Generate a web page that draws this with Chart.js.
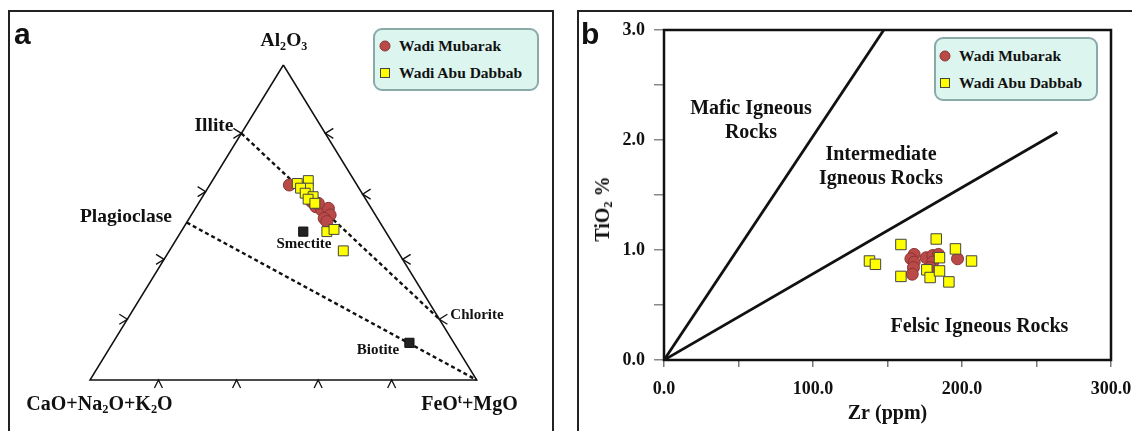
<!DOCTYPE html>
<html><head><meta charset="utf-8">
<script src="https://cdn.jsdelivr.net/npm/chart.js@4.4.0/dist/chart.umd.min.js"></script>
<style>
html,body{margin:0;padding:0;background:#fff;width:1132px;height:431px;overflow:hidden;position:relative;font-family:"Liberation Serif","Times New Roman",serif;}
.frame{position:absolute;border:2px solid #222;box-sizing:border-box;}
canvas{position:absolute;}
.lbl{position:absolute;font-weight:bold;line-height:1;white-space:nowrap;transform:translate(-50%,-50%);color:#111;}
.lbl sub,.lbl sup{font-size:0.62em;line-height:0;}
.lbl sub{vertical-align:-0.28em;}
.lbl sup{vertical-align:0.55em;}
.panel{position:absolute;font-family:"Liberation Sans",Arial,sans-serif;font-weight:bold;font-size:30px;line-height:1;color:#111;}
.legend{position:absolute;background:#dcf5ef;border:2px solid #8aaaa8;border-radius:9px;box-sizing:border-box;}
.lg{position:absolute;font-weight:bold;font-size:15.5px;line-height:1;white-space:nowrap;transform:translateY(-50%);color:#111;}
.mk{position:absolute;box-sizing:border-box;transform:translate(-50%,-50%);}
.mk.c{width:11px;height:11px;border-radius:50%;background:#b94a48;border:1px solid #8b3434;}
.mk.s{width:10px;height:10px;background:#ffff00;border:1px solid #444;}
</style>
</head><body>

<div class="frame" style="left:8px;top:10px;width:546px;height:440px;"></div>
<div class="frame" style="left:577px;top:10px;width:570px;height:440px;"></div>

<canvas id="ca" width="560" height="431" style="left:0;top:0;"></canvas>
<canvas id="cb" width="562" height="431" style="left:570px;top:0;"></canvas>

<!-- panel a texts -->
<div class="panel" style="left:14px;top:19px;">a</div>
<div class="lbl" style="left:284px;top:40px;font-size:19.5px;">Al<sub>2</sub>O<sub>3</sub></div>
<div class="lbl" style="left:214px;top:125px;font-size:19.5px;">Illite</div>
<div class="lbl" style="left:126px;top:216px;font-size:19.5px;">Plagioclase</div>
<div class="lbl" style="left:304px;top:242.5px;font-size:15px;">Smectite</div>
<div class="lbl" style="left:378px;top:349px;font-size:15px;">Biotite</div>
<div class="lbl" style="left:477px;top:313.5px;font-size:15px;">Chlorite</div>
<div class="lbl" style="left:99.5px;top:402.5px;font-size:20px;">CaO+Na<sub>2</sub>O+K<sub>2</sub>O</div>
<div class="lbl" style="left:469.5px;top:402.5px;font-size:20px;">FeO<sup>t</sup>+MgO</div>

<div class="legend" style="left:373px;top:28px;width:166px;height:63px;"></div>
<div class="mk c" style="left:385px;top:45.7px;"></div>
<div class="mk s" style="left:385px;top:73.3px;"></div>
<div class="lg" style="left:399px;top:45.5px;">Wadi Mubarak</div>
<div class="lg" style="left:399px;top:73.3px;">Wadi Abu Dabbab</div>

<!-- panel b texts -->
<div class="panel" style="left:581px;top:19px;">b</div>
<div class="lbl" style="left:751px;top:107px;font-size:20px;">Mafic Igneous</div>
<div class="lbl" style="left:751px;top:131px;font-size:20px;">Rocks</div>
<div class="lbl" style="left:881px;top:153px;font-size:20px;">Intermediate</div>
<div class="lbl" style="left:881px;top:177px;font-size:20px;">Igneous Rocks</div>
<div class="lbl" style="left:979.5px;top:325px;font-size:20px;">Felsic Igneous Rocks</div>
<div class="lbl" style="left:602px;top:209px;font-size:20px;transform:translate(-50%,-50%) rotate(-90deg);">TiO<sub>2</sub> %</div>

<div class="legend" style="left:934px;top:37px;width:164px;height:64px;"></div>
<div class="mk c" style="left:945px;top:55.7px;"></div>
<div class="mk s" style="left:945px;top:83.3px;"></div>
<div class="lg" style="left:959px;top:55.5px;">Wadi Mubarak</div>
<div class="lg" style="left:959px;top:83.3px;">Wadi Abu Dabbab</div>

<script>
// ===== Panel a: ternary Al2O3 - (CaO+Na2O+K2O) - (FeOt+MgO), in % =====
const mubarakAl2O3 = [61.9, 56.6, 55.0, 54.0, 54.5, 52.4, 51.3, 50.3, 56.1];
const mubarakCNK   = [17.5, 14.4, 14.1, 13.1, 11.1, 11.7, 13.8, 13.6, 12.9];
const mubarakFM    = [20.6, 29.0, 30.9, 32.9, 34.4, 35.9, 34.9, 36.1, 31.0];

const dabbabAl2O3 = [62.4, 63.3, 60.9, 60.9, 59.3, 58.2, 57.4, 56.1, 47.1, 47.8, 41.0];
const dabbabCNK   = [15.2, 11.9, 13.1, 15.1, 14.7, 13.2, 14.9, 13.8, 15.2, 13.0, 14.0];
const dabbabFM    = [22.4, 24.8, 26.0, 24.0, 26.0, 28.6, 27.7, 30.1, 37.7, 39.2, 45.0];

// reference minerals
const mineralNames  = ['Illite', 'Plagioclase', 'Chlorite', 'Smectite', 'Biotite'];
const mineralAl2O3  = [78.3, 50.0, 19.3, 47.1, 11.8];
const mineralCNK    = [21.7, 50.0, 0.0, 21.3, 11.5];
const mineralFM     = [0.0, 0.0, 80.7, 31.6, 76.7];

// triangle apexes: Al2O3, CaO+Na2O+K2O, FeOt+MgO
const apexAl2O3 = [100, 0, 0];
const apexCNK   = [0, 100, 0];
const apexFM    = [0, 0, 100];

// chevron tick positions along the edges (%)
const leftEdgeTicks   = [19.3, 38.3, 59.8, 78.3];   // Al2O3 % on the left edge
const rightEdgeTicks  = [19.3, 38.3, 59.0, 78.3];   // Al2O3 % on the right edge
const bottomEdgeTicks = [17.7, 37.9, 59.0, 78.0];   // FeOt+MgO % on the base

// ===== Panel b: TiO2 vs Zr =====
const zrMubarak  = [167.9, 165.7, 167.9, 167.4, 166.6, 176.0, 180.4, 184.2, 180.4, 178.6, 197.0];
const tiMubarak  = [0.96, 0.92, 0.89, 0.84, 0.78, 0.93, 0.95, 0.96, 0.89, 0.84, 0.92];
const zrDabbab   = [159.0, 182.7, 195.6, 137.9, 141.9, 206.4, 184.9, 159.0, 176.4, 178.6, 184.9, 191.2];
const tiDabbab   = [1.05, 1.10, 1.01, 0.90, 0.87, 0.90, 0.93, 0.76, 0.82, 0.75, 0.81, 0.71];
const maficLineZr = [0, 147.5];
const maficLineTi = [0, 3.0];
const felsicLineZr = [0, 264];
const felsicLineTi = [0, 2.07];
const xTickLabels = ['0.0', '100.0', '200.0', '300.0'];
const yTickLabels = ['0.0', '1.0', '2.0', '3.0'];

// ---- helpers ----
function tern(a, c, f) { const s = a + c + f; return { x: (f + a / 2) / s, y: a / s }; }
function ternList(A, C, F) { return A.map((a, i) => tern(a, C[i], F[i])); }
function xyList(X, Y) { return X.map((x, i) => ({ x: x, y: Y[i] })); }
const mIdx = n => mineralNames.indexOf(n);
const mPt = n => tern(mineralAl2O3[mIdx(n)], mineralCNK[mIdx(n)], mineralFM[mIdx(n)]);

const RED = '#b94a48', RED_B = '#8b3434', YEL = '#ffff00', YEL_B = '#444';
const SERIF = '"Liberation Serif","Times New Roman",serif';

const chevronPlugin = {
  id: 'chevrons',
  afterDatasetsDraw(chart) {
    const { ctx, scales: { x, y } } = chart;
    ctx.save();
    ctx.strokeStyle = '#111'; ctx.lineWidth = 1.3;
    const chev = (p, dx1, dy1, dx2, dy2) => {
      const px = x.getPixelForValue(p.x), py = y.getPixelForValue(p.y);
      ctx.beginPath(); ctx.moveTo(px + dx1, py + dy1); ctx.lineTo(px, py); ctx.lineTo(px + dx2, py + dy2); ctx.stroke();
    };
    leftEdgeTicks.forEach(a => chev(tern(a, 100 - a, 0), -8, -5, -8, 5));
    rightEdgeTicks.forEach(a => chev(tern(a, 0, 100 - a), 8, -5, 8, 5));
    bottomEdgeTicks.forEach(f => chev(tern(0, 100 - f, f), -4, 8, 4, 8));
    ctx.restore();
  }
};

const triangle = [tern(apexAl2O3[0], apexCNK[0], apexFM[0]), tern(apexAl2O3[1], apexCNK[1], apexFM[1]),
                  tern(apexAl2O3[2], apexCNK[2], apexFM[2]), tern(apexAl2O3[0], apexCNK[0], apexFM[0])];

new Chart(document.getElementById('ca'), {
  type: 'scatter',
  data: {
    datasets: [
      { label: 'Wadi Abu Dabbab', data: ternList(dabbabAl2O3, dabbabCNK, dabbabFM), order: 0,
        pointStyle: 'rect', radius: 7, backgroundColor: YEL, borderColor: YEL_B, borderWidth: 1 },
      { label: 'Wadi Mubarak', data: ternList(mubarakAl2O3, mubarakCNK, mubarakFM), order: 1,
        pointStyle: 'circle', radius: 6, backgroundColor: RED, borderColor: RED_B, borderWidth: 1 },
      { label: 'Minerals', data: [mPt('Smectite'), mPt('Biotite')], order: 2,
        pointStyle: 'rect', radius: 6.5, backgroundColor: '#222', borderColor: '#111', borderWidth: 1 },
      { label: 'Illite-Chlorite', data: [mPt('Illite'), mPt('Chlorite')], showLine: true, order: 3,
        pointRadius: 0, borderColor: '#111', borderWidth: 2.4, borderDash: [4, 3] },
      { label: 'Plagioclase-FM', data: [mPt('Plagioclase'), tern(apexAl2O3[2], apexCNK[2], apexFM[2])], showLine: true, order: 3,
        pointRadius: 0, borderColor: '#111', borderWidth: 2.4, borderDash: [4, 3] },
      { label: 'Triangle', data: triangle, showLine: true, order: 4,
        pointRadius: 0, borderColor: '#111', borderWidth: 1.5 }
    ]
  },
  options: {
    responsive: false, animation: false, events: [],
    layout: { padding: 0, autoPadding: false },
    plugins: { legend: { display: false }, tooltip: { enabled: false } },
    scales: {
      x: { type: 'linear', display: false, min: -0.23274, max: 1.21541 },
      y: { type: 'linear', display: false, min: -0.1619, max: 1.20635 }
    }
  },
  plugins: [chevronPlugin]
});

const framePlugin = {
  id: 'frame',
  beforeDatasetsDraw(chart) {
    const { ctx, chartArea: a } = chart;
    ctx.save(); ctx.strokeStyle = '#111'; ctx.lineWidth = 2.5;
    ctx.strokeRect(a.left, a.top, a.right - a.left, a.bottom - a.top);
    ctx.restore();
  }
};

new Chart(document.getElementById('cb'), {
  type: 'scatter',
  data: {
    datasets: [
      { label: 'Wadi Abu Dabbab', data: xyList(zrDabbab, tiDabbab), order: 0,
        pointStyle: 'rect', radius: 7.4, backgroundColor: YEL, borderColor: YEL_B, borderWidth: 1 },
      { label: 'Wadi Mubarak', data: xyList(zrMubarak, tiMubarak), order: 1,
        pointStyle: 'circle', radius: 6, backgroundColor: RED, borderColor: RED_B, borderWidth: 1 },
      { label: 'Mafic boundary', data: xyList(maficLineZr, maficLineTi), showLine: true, order: 2,
        pointRadius: 0, borderColor: '#111', borderWidth: 2.8 },
      { label: 'Felsic boundary', data: xyList(felsicLineZr, felsicLineTi), showLine: true, order: 2,
        pointRadius: 0, borderColor: '#111', borderWidth: 2.8 }
    ]
  },
  options: {
    responsive: false, animation: false, events: [],
    layout: { padding: { left: 0, top: 30, right: 21, bottom: 0 }, autoPadding: false },
    plugins: { legend: { display: false }, tooltip: { enabled: false } },
    scales: {
      x: {
        type: 'linear', min: 0, max: 300,
        afterFit(s) { s.height = 71; s.paddingLeft = 0; s.paddingRight = 0; },
        afterBuildTicks(s) { s.ticks = [0, 50, 100, 150, 200, 250, 300].map(v => ({ value: v })); },
        grid: { drawOnChartArea: false, drawTicks: true, tickLength: 7, color: '#777', lineWidth: 1.5 },
        border: { display: false },
        ticks: { autoSkip: false, maxRotation: 0, padding: 12, color: '#111',
          font: { family: SERIF, size: 18, weight: 'bold' },
          callback: v => (v % 100 === 0 ? xTickLabels[v / 100] : '') },
        title: { display: true, text: 'Zr (ppm)', color: '#111', padding: { top: 0, bottom: 5 },
          font: { family: SERIF, size: 20, weight: 'bold' } }
      },
      y: {
        type: 'linear', min: 0, max: 3,
        afterFit(s) { s.width = 94; s.paddingTop = 0; s.paddingBottom = 0; },
        afterBuildTicks(s) { s.ticks = [0, 0.5, 1, 1.5, 2, 2.5, 3].map(v => ({ value: v })); },
        grid: { drawOnChartArea: false, drawTicks: true, tickLength: 10, color: '#888', lineWidth: 1.5 },
        border: { display: false },
        ticks: { autoSkip: false, padding: 9, color: '#111',
          font: { family: SERIF, size: 18, weight: 'bold' },
          callback: v => (Number.isInteger(v) ? yTickLabels[v] : '') }
      }
    }
  },
  plugins: [framePlugin]
});
</script>
</body></html>
